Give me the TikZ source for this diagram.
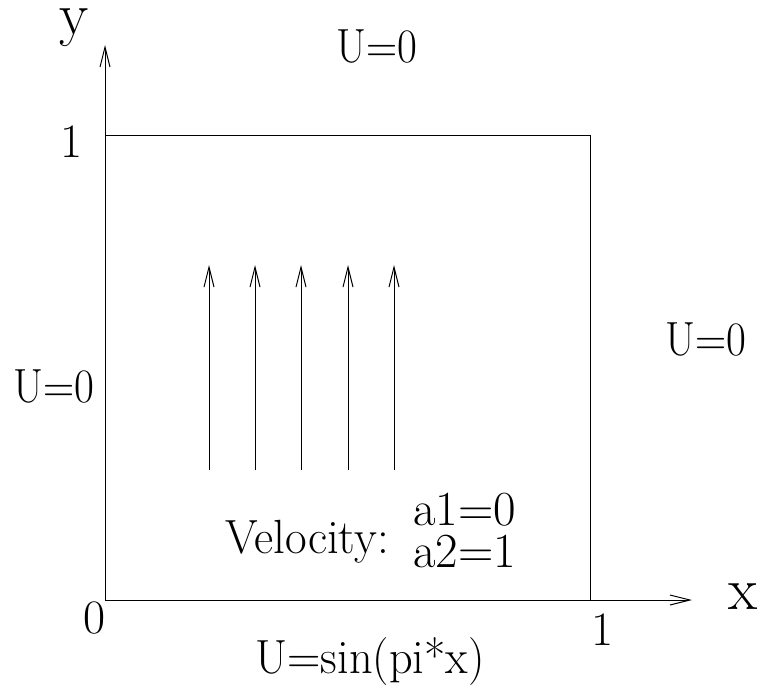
\documentclass[tikz,border=0pt]{standalone}
\usetikzlibrary{arrows.meta}
\begin{document}
\begin{tikzpicture}[x=1pt,y=-1pt,
  line width=1pt,
  lbl/.style={inner sep=0pt,font=\fontsize{48}{48}\selectfont},
  ulbl/.style={inner sep=0pt,font=\fontsize{48}{48}\selectfont,xscale=0.9},
  wlbl/.style={inner sep=0pt,font=\fontsize{49}{49}\selectfont},
  axlbl/.style={inner sep=0pt,font=\fontsize{60}{60}\selectfont},
  arr/.style={-{Straight Barb[length=20pt,width=10pt,line width=1pt]}}]
\useasboundingbox (0,0) rectangle (762,693);
% coordinates
\coordinate (O) at (105,600);
\coordinate (ytip) at (105,45);
\coordinate (xtip) at (692,600);
\coordinate (TL) at (105,135);
\coordinate (TR) at (590,135);
\coordinate (BR) at (590,600);
% domain
\draw (O) -- (TL) -- (TR) -- (BR) -- (O);
% axes
\draw[arr] (O) -- (ytip);
\draw[arr] (O) -- (xtip);
% velocity arrows
\foreach \i/\xx in {1/209,2/255,3/301,4/348,5/394}{
  \coordinate (s\i) at (\xx,470);
  \coordinate (e\i) at (\xx,265);
  \draw[arr] (s\i) -- (e\i);
}
% labels
\node[axlbl,anchor=base] (ylab) at (74,35) {y};
\node[axlbl,anchor=base] (xlab) at (743,609) {x};
\node[ulbl,anchor=base] (utop) at (377,63) {U=0};
\node[lbl,anchor=base] (one_y) at (72,157) {1};
\node[ulbl,anchor=base] (uleft) at (54,402) {U=0};
\node[ulbl,anchor=base] (uright) at (706,355) {U=0};
\node[lbl,anchor=base west,xscale=0.98] (vel) at (225,553) {Velocity:};
\node[wlbl,anchor=base west] (a1) at (413,525) {a1=0};
\node[wlbl,anchor=base west] (a2) at (413,567) {a2=1};
\node[lbl,anchor=base] (zero) at (95,633) {0};
\node[lbl,anchor=base] (one_x) at (603,645) {1};
\node[lbl,anchor=base,xscale=0.965] (ubot) at (370,673) {U=sin(pi*x)};
\end{tikzpicture}
\end{document}
